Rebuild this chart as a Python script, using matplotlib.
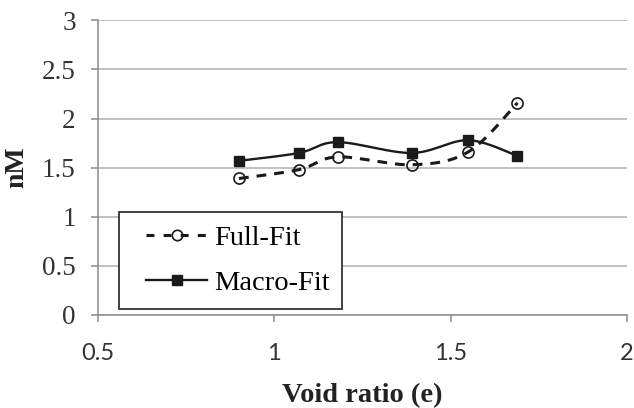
import numpy as np
import matplotlib.pyplot as plt
from matplotlib.lines import Line2D
from matplotlib.legend_handler import HandlerLine2D

# data
void_ratio = [0.90, 1.07, 1.18, 1.39, 1.55, 1.69]
full_fit = [1.39, 1.48, 1.61, 1.53, 1.66, 2.16]
macro_fit = [1.57, 1.65, 1.76, 1.65, 1.78, 1.62]

x_ticks = [0.5, 1, 1.5, 2]
y_ticks = [0, 0.5, 1, 1.5, 2, 2.5, 3]


# smoothed line like the spreadsheet "smoothed line" option (Catmull-Rom / Bezier)
def smooth(xs, ys, n=30):
  p = np.column_stack([xs, ys]).astype(float)
  p = np.vstack([p[0], p, p[-1]])
  out = []
  t = np.linspace(0, 1, n)[:, None]
  for i in range(1, len(p) - 2):
    p0 = p[i]; p3 = p[i + 1]
    c1 = p0 + (p[i + 1] - p[i - 1]) / 6
    c2 = p3 - (p[i + 2] - p[i]) / 6
    seg = ((1 - t) ** 3) * p0 + 3 * ((1 - t) ** 2) * t * c1 + 3 * (1 - t) * t ** 2 * c2 + t ** 3 * p3
    out.append(seg if i == 1 else seg[1:])
  out = np.vstack(out)
  return out[:, 0], out[:, 1]


serif = 'Liberation Serif'
sans = 'Lato'
grey = '#8c8c8c'
ink = '#1a1a1a'

fig = plt.figure(figsize=(6.34, 4.08), dpi=100)
ax = fig.add_axes([0.1546, 0.228, 0.834, 0.722])

sx, sy = smooth(void_ratio, full_fit)
ax.plot(sx, sy, color=ink, lw=2.2, ls=(0, (3.2, 2.6)), zorder=3)
sx, sy = smooth(void_ratio, macro_fit)
ax.plot(sx, sy, color=ink, lw=1.7, zorder=3)

ax.plot(void_ratio, full_fit, 'o', ms=8, mfc='none', mec=ink, mew=1.2, zorder=4)
ax.plot(void_ratio, macro_fit, 's', ms=7.2, color=ink, zorder=4)

# legend handles
h1 = Line2D([], [], color=ink, lw=2.2, ls=(0, (2.6, 3.0)), marker='o', ms=7.5,
            mfc='none', mec=ink, mew=1.2)
h2 = Line2D([], [], color=ink, lw=1.7, marker='s', ms=7)
leg = ax.legend([h1, h2], ['Full-Fit', 'Macro-Fit'], loc='lower left',
                bbox_to_anchor=(0.040, 0.02), borderaxespad=0, fancybox=False,
                framealpha=1, edgecolor='#333333', handlelength=2.65,
                borderpad=0.45, labelspacing=0.68, handletextpad=0.22,
                handler_map={Line2D: HandlerLine2D(xpad=0.5)},
                prop={'family': serif, 'size': 20.5})
leg.get_frame().set_linewidth(1.3)
leg.set_zorder(5)

ax.set_xlim(0.5, 2)
ax.set_ylim(0, 3)
ax.set_xticks(x_ticks)
ax.set_xticklabels(['0.5', '1', '1.5', '2'], family=sans, fontsize=17, color='#333333')
ax.set_yticks(y_ticks)
ax.set_yticklabels(['0', '0.5', '1', '1.5', '2', '2.5', '3'], family=serif, fontsize=19.5,
                   color='#333333')
ax.grid(axis='y', color='#b0b0b0', lw=1.1)
ax.set_axisbelow(True)
for s in ['top', 'right']:
  ax.spines[s].set_visible(False)
for s in ['left', 'bottom']:
  ax.spines[s].set_color(grey)
  ax.spines[s].set_linewidth(1.1)
ax.tick_params(axis='both', color=grey, width=1.1, length=5)
ax.tick_params(axis='x', pad=15)
ax.tick_params(axis='y', pad=11)

ax.set_xlabel('Void ratio (e)', family=serif, fontsize=20.5, fontweight='bold', color='#222222',
              labelpad=14)
ax.set_ylabel('nM', family=serif, fontsize=20, fontweight='bold', color='#222222')
ax.yaxis.set_label_coords(-0.13, 0.5)

fig.savefig('out.png', dpi=100)
